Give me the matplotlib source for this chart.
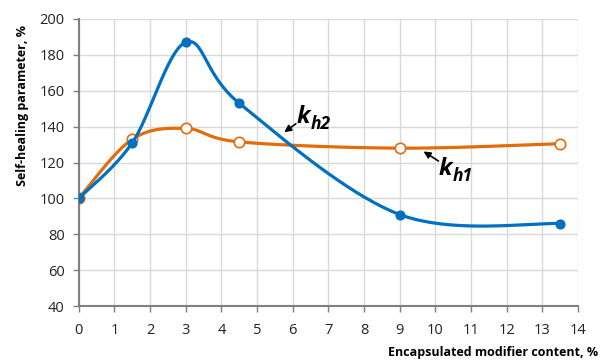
import numpy as np
import matplotlib.pyplot as plt

# ------------------------------------------------------------
# data
# ------------------------------------------------------------
content = [0, 1.5, 3, 4.5, 9, 13.5]
kh1 = [100, 133, 139, 131.5, 128, 130.5]
kh2 = [100, 131, 187, 153, 91, 86]

x_ticks = list(range(0, 15))
y_ticks = list(range(40, 201, 20))

BLUE = "#0070c0"
ORANGE = "#e46c0a"


def smooth(x, y, n=40):
    # Catmull-Rom style smoothing, similar to Excel's "smoothed line"
    x = np.asarray(x, float)
    y = np.asarray(y, float)
    px = np.concatenate([[x[0]], x, [x[-1]]])
    py = np.concatenate([[y[0]], y, [y[-1]]])
    xs, ys = [], []
    t = np.linspace(0, 1, n)
    for i in range(1, len(px) - 2):
        p0 = np.array([px[i], py[i]])
        p3 = np.array([px[i + 1], py[i + 1]])
        p1 = p0 + (np.array([px[i + 1], py[i + 1]]) - np.array([px[i - 1], py[i - 1]])) / 6
        p2 = p3 - (np.array([px[i + 2], py[i + 2]]) - np.array([px[i], py[i]])) / 6
        b = ((1 - t)**3)[:, None] * p0 + (3 * (1 - t)**2 * t)[:, None] * p1 \
            + (3 * (1 - t) * t**2)[:, None] * p2 + (t**3)[:, None] * p3
        xs.extend(b[:, 0])
        ys.extend(b[:, 1])
    return np.array(xs), np.array(ys)


def k_label(ax, x, y, sub):
    # big italic "k" with a bold italic subscript next to it
    ax.text(x, y, "k", fontsize=17, fontweight='bold', fontstyle='italic',
            ha='left', va='baseline')
    ax.text(x + 0.38, y - 3.5, sub, fontsize=12.5, fontweight='bold', fontstyle='italic',
            ha='left', va='baseline')


plt.rcParams['font.family'] = ['Open Sans', 'DejaVu Sans']

fig = plt.figure(figsize=(6.01, 3.64), dpi=100)
ax = fig.add_axes([0.131, 0.159, 0.831, 0.789])

sx, sy = smooth(content, kh1)
ax.plot(sx, sy, color=ORANGE, lw=2.3, zorder=3)
ax.plot(content, kh1, 'o', ms=7.5, mfc='white', mec=ORANGE, mew=1.2, zorder=4)

sx, sy = smooth(content, kh2)
ax.plot(sx, sy, color=BLUE, lw=2.3, zorder=5)
ax.plot(content, kh2, 'o', ms=6.3, color=BLUE, zorder=6)

ax.set_xlim(0, 14)
ax.set_ylim(40, 200)
ax.set_xticks(x_ticks)
ax.set_yticks(y_ticks)
ax.grid(True, color='#d9d9d9', lw=1)
ax.set_axisbelow(True)

for s in ['top', 'right']:
    ax.spines[s].set_visible(False)
for s in ['left', 'bottom']:
    ax.spines[s].set_color('#808080')
    ax.spines[s].set_linewidth(1.5)
ax.tick_params(length=4, width=1, color='#808080', labelsize=10.5, labelcolor='#222222', pad=6)
ax.tick_params(axis='x', pad=8)

# curve labels with arrows
ax.annotate("", xy=(5.7, 136), xytext=(6.15, 142.5),
            arrowprops=dict(arrowstyle='-|>', color='black', lw=1.2, mutation_scale=10))
k_label(ax, 6.12, 142, "h2")

ax.annotate("", xy=(9.6, 127), xytext=(10.15, 120),
            arrowprops=dict(arrowstyle='-|>', color='black', lw=1.2, mutation_scale=10))
k_label(ax, 10.1, 113, "h1")

fig.text(0.038, 0.71, "Self-healing parameter, %", rotation=90, fontsize=9,
         fontweight='bold', ha='center', va='center')
fig.text(0.995, 0.032, "Encapsulated modifier content, %", fontsize=9,
         fontweight='bold', ha='right', va='center')

fig.savefig("out.png", dpi=100)
